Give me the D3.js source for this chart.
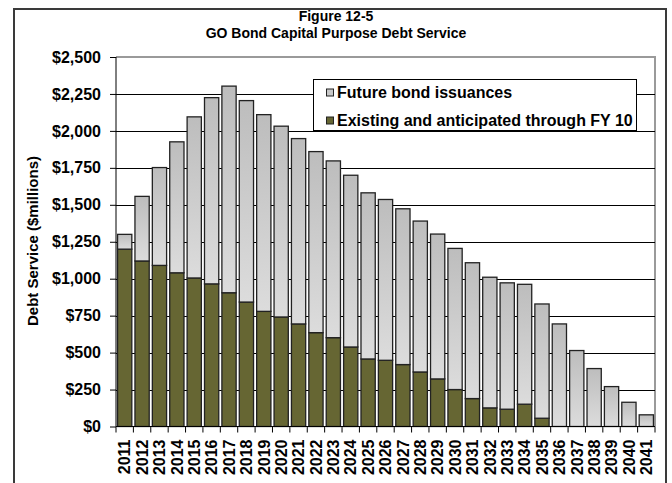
<!DOCTYPE html>
<html>
<head>
<meta charset="utf-8">
<script src="https://cdn.jsdelivr.net/npm/d3@7"></script>
<style>
  html, body { margin: 0; padding: 0; background: #fff; }
  svg { display: block; font-family: "Liberation Sans", Arial, sans-serif; }
</style>
</head>
<body>
<svg id="chart" width="672" height="483"></svg>
<script>
// Fiscal years
const years = ["2011","2012","2013","2014","2015","2016","2017","2018","2019","2020",
  "2021","2022","2023","2024","2025","2026","2027","2028","2029","2030",
  "2031","2032","2033","2034","2035","2036","2037","2038","2039","2040","2041"];

// Debt service on existing bonds and those anticipated through FY 10 ($ millions)
const existing = [1200,1120,1090,1040,1005,965,905,842,779,741,
  694,635,601,538,457,448,419,369,322,250,
  189,126,117,151,56,0,0,0,0,0,0];

// Debt service on future bond issuances ($ millions)
const future = [100,437,662,886,1090,1260,1398,1363,1331,1291,
  1254,1225,1196,1162,1124,1088,1054,1021,980,955,
  919,884,855,811,773,694,514,392,270,164,79];

const yTicks = [0,250,500,750,1000,1250,1500,1750,2000,2250,2500];

const seriesNames = ["Existing and anticipated through FY 10", "Future bond issuances"];
const seriesColors = ["#666633", "url(#grayFill)"];

const titleLines = ["Figure 12-5", "GO Bond Capital Purpose Debt Service"];
const yTitle = "Debt Service ($millions)";

const svg = d3.select("#chart");
const plot = { left: 116, right: 655, top: 57, bottom: 426.5 };

// Gray bar gradient
const defs = svg.append("defs");
const grad = defs.append("linearGradient").attr("id", "grayFill")
  .attr("x1", 0).attr("y1", 0).attr("x2", 0).attr("y2", 1);
grad.append("stop").attr("offset", "0%").attr("stop-color", "#bdbdbd");
grad.append("stop").attr("offset", "100%").attr("stop-color", "#dcdcdc");

// Outer frame
svg.append("rect")
  .attr("x", 14).attr("y", 9).attr("width", 652).attr("height", 500)
  .attr("fill", "#fff").attr("stroke", "#3a3a3a").attr("stroke-width", 2);

const x = d3.scaleBand().domain(years).range([plot.left, plot.right])
  .paddingInner(0.18).paddingOuter(0.09);
const y = d3.scaleLinear().domain([0, 2500]).range([plot.bottom, plot.top]);

// Plot area border (top and right)
svg.append("path")
  .attr("d", `M${plot.left},${plot.top}H${plot.right}V${plot.bottom}`)
  .attr("fill", "none").attr("stroke", "#9a9a9a").attr("stroke-width", 2);

// Gridlines
svg.append("g").selectAll("line")
  .data(yTicks.filter(v => v > 0 && v < 2500))
  .join("line")
  .attr("x1", plot.left).attr("x2", plot.right)
  .attr("y1", d => Math.round(y(d)) + 0.5).attr("y2", d => Math.round(y(d)) + 0.5)
  .attr("stroke", "#000").attr("stroke-width", 1);

// Stacked bars
const table = years.map((yr, i) => ({ year: yr, existing: existing[i], future: future[i] }));
const stack = d3.stack().keys(["existing", "future"]);
const layers = stack(table);

svg.append("g").selectAll("g")
  .data(layers)
  .join("g")
  .attr("fill", (d, i) => seriesColors[i])
  .selectAll("rect")
  .data(d => d.filter(p => p[1] - p[0] > 0))
  .join("rect")
  .attr("x", d => x(d.data.year))
  .attr("width", x.bandwidth())
  .attr("y", d => y(d[1]))
  .attr("height", d => y(d[0]) - y(d[1]))
  .attr("stroke", "#222")
  .attr("stroke-width", 1.3);

// Y axis
const yAxis = svg.append("g")
  .attr("transform", `translate(${plot.left},0)`)
  .call(d3.axisLeft(y).tickValues(yTicks).tickSize(6).tickPadding(9)
    .tickFormat(d => "$" + d3.format(",")(d)));
yAxis.select(".domain").attr("stroke", "#000").attr("d", `M0,${plot.top}V${plot.bottom}`);
yAxis.selectAll(".tick line").attr("stroke", "#000");
yAxis.selectAll("text")
  .attr("font-size", 16).attr("font-weight", "bold").attr("fill", "#000")
  .attr("font-family", "'Liberation Sans', Arial, sans-serif");

// X axis: ticks sit between categories
const xAxisG = svg.append("g").attr("transform", `translate(0,${plot.bottom})`);
xAxisG.append("line")
  .attr("x1", plot.left).attr("x2", plot.right)
  .attr("stroke", "#000").attr("stroke-width", 1.2);
const step = x.step();
const boundaries = years.map(yr => x(yr) - (step - x.bandwidth()) / 2).concat([plot.right]);
xAxisG.selectAll("line.tk")
  .data(boundaries)
  .join("line").attr("class", "tk")
  .attr("x1", d => d).attr("x2", d => d)
  .attr("y1", 0).attr("y2", 6)
  .attr("stroke", "#000");
xAxisG.selectAll("text")
  .data(years)
  .join("text")
  .attr("transform", d => `translate(${x(d) + x.bandwidth() / 2},13) rotate(-90)`)
  .attr("text-anchor", "end")
  .attr("dy", "0.36em")
  .attr("font-size", 16).attr("font-weight", "bold").attr("fill", "#000")
  .text(d => d);

// Y axis title
svg.append("text")
  .attr("transform", `translate(38,241) rotate(-90)`)
  .attr("text-anchor", "middle")
  .attr("font-size", 15).attr("font-weight", "bold")
  .text(yTitle);

// Chart title
svg.append("g").selectAll("text")
  .data(titleLines)
  .join("text")
  .attr("x", 336).attr("y", (d, i) => 21 + i * 17)
  .attr("text-anchor", "middle")
  .attr("font-size", 14).attr("font-weight", "bold")
  .text(d => d);

// Legend
const lg = svg.append("g");
lg.append("rect")
  .attr("x", 313.5).attr("y", 79.5).attr("width", 323).attr("height", 51)
  .attr("fill", "#fff").attr("stroke", "#000");
const legendOrder = [1, 0];
legendOrder.forEach((si, k) => {
  const cy = 92.5 + k * 28;
  lg.append("rect")
    .attr("x", 326.5).attr("y", cy - 3.5).attr("width", 7).attr("height", 7)
    .attr("fill", si === 1 ? "#c8c8c8" : seriesColors[0])
    .attr("stroke", "#222");
  lg.append("text")
    .attr("x", 337).attr("y", cy).attr("dy", "0.35em")
    .attr("font-size", 16).attr("font-weight", "bold")
    .text(seriesNames[si]);
});
</script>
</body>
</html>
